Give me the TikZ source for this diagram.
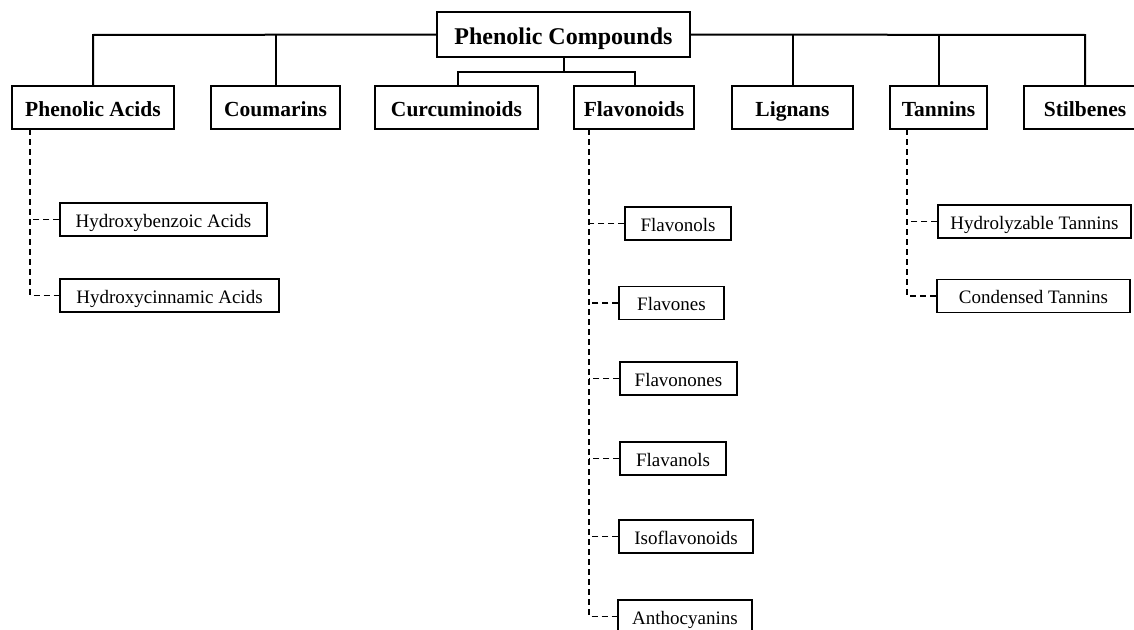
\documentclass[tikz,border=0pt]{standalone}
\usepackage{fontspec}
\setmainfont{Liberation Serif}
\begin{document}
\begin{tikzpicture}[x=1pt,y=-1pt,
  topbox/.style={draw, line width=1.6pt, inner sep=0pt, minimum height=45pt, text height=19pt, text depth=0pt, font=\fontsize{24}{26}\selectfont\bfseries},
  catbox/.style={draw, line width=1.6pt, inner sep=0pt, minimum height=43pt, text height=18pt, text depth=0pt, font=\fontsize{21.5}{24}\selectfont\bfseries},
  subbox/.style={draw, line width=1.3pt, inner sep=0pt, minimum height=33pt, text height=15.5pt, text depth=0pt, font=\fontsize{19}{22}\selectfont},
  solidline/.style={line width=2pt},
  dashline/.style={line width=1.6pt, dash pattern=on 6pt off 4pt}]
\useasboundingbox (0,0) rectangle (1134,629);
\clip (0,0) rectangle (1134,629);
% top
\node[topbox, minimum width=253pt] (top) at (563.5,34.5) {Phenolic Compounds};
% categories
\node[catbox, minimum width=162pt] (pa) at (93,107.5) {Phenolic Acids};
\node[catbox, minimum width=129pt] (cou) at (275.5,107.5) {Coumarins};
\node[catbox, minimum width=163pt] (cur) at (456.5,107.5) {Curcuminoids};
\node[catbox, minimum width=120pt] (fla) at (634,107.5) {Flavonoids};
\node[catbox, minimum width=121pt] (lig) at (792.5,107.5) {Lignans};
\node[catbox, minimum width=97pt] (tan) at (938.5,107.5) {Tannins};
\node[catbox, minimum width=122pt] (sti) at (1085,107.5) {Stilbenes};
% subcategories
\node[subbox, minimum width=207pt] (hb) at (163.5,219.5) {Hydroxybenzoic Acids};
\node[subbox, minimum width=219pt] (hc) at (169.5,295.5) {Hydroxycinnamic Acids};
\node[subbox, minimum width=106pt] (fol) at (678,223.5) {Flavonols};
\node[subbox, minimum width=105pt] (fon) at (671.5,303) {Flavones};
\node[subbox, minimum width=117pt] (fnn) at (678.5,378.5) {Flavonones};
\node[subbox, minimum width=106pt] (fan) at (673,458.5) {Flavanols};
\node[subbox, minimum width=134pt] (iso) at (686,536.5) {Isoflavonoids};
\node[subbox, minimum width=134pt] (ant) at (685,616.5) {Anthocyanins};
\node[subbox, minimum width=193pt] (hyd) at (1034.5,221.5) {Hydrolyzable Tannins};
\node[subbox, minimum width=193pt] (con) at (1033.5,296) {Condensed Tannins};
% solid connectors
\coordinate (busL) at (93,35);
\coordinate (busR) at (1085,35);
\draw[solidline] (top.west) -- (busL) -- (pa.north);
\draw[solidline] (top.east) -- (busR) -- (sti.north);
\draw[solidline] (cou.north) -- (cou.north |- busL);
\draw[solidline] (lig.north) -- (lig.north |- busL);
\draw[solidline] (tan.north) -- (tan.north |- busL);
\coordinate (mid) at (564,72);
\draw[solidline] (top.south -| mid) -- (mid);
\draw[solidline] (cur.north -| 458,0) -- (458,72) -- (635,72) -- (fla.north -| 635,0);
% dashed connectors
\coordinate (paS) at (30,129);
\draw[dashline] (paS) |- (hc.west);
\draw[dashline] (hb.west) -- (hb.west -| paS);
\coordinate (flS) at (589,129);
\draw[dashline] (flS) |- (ant.west);
\foreach \n in {fol,fon,fnn,fan,iso}
  \draw[dashline] (\n.west) -- (\n.west -| flS);
\coordinate (tnS) at (907,129);
\draw[dashline] (tnS) |- (con.west);
\draw[dashline] (hyd.west) -- (hyd.west -| tnS);
\end{tikzpicture}
\end{document}
